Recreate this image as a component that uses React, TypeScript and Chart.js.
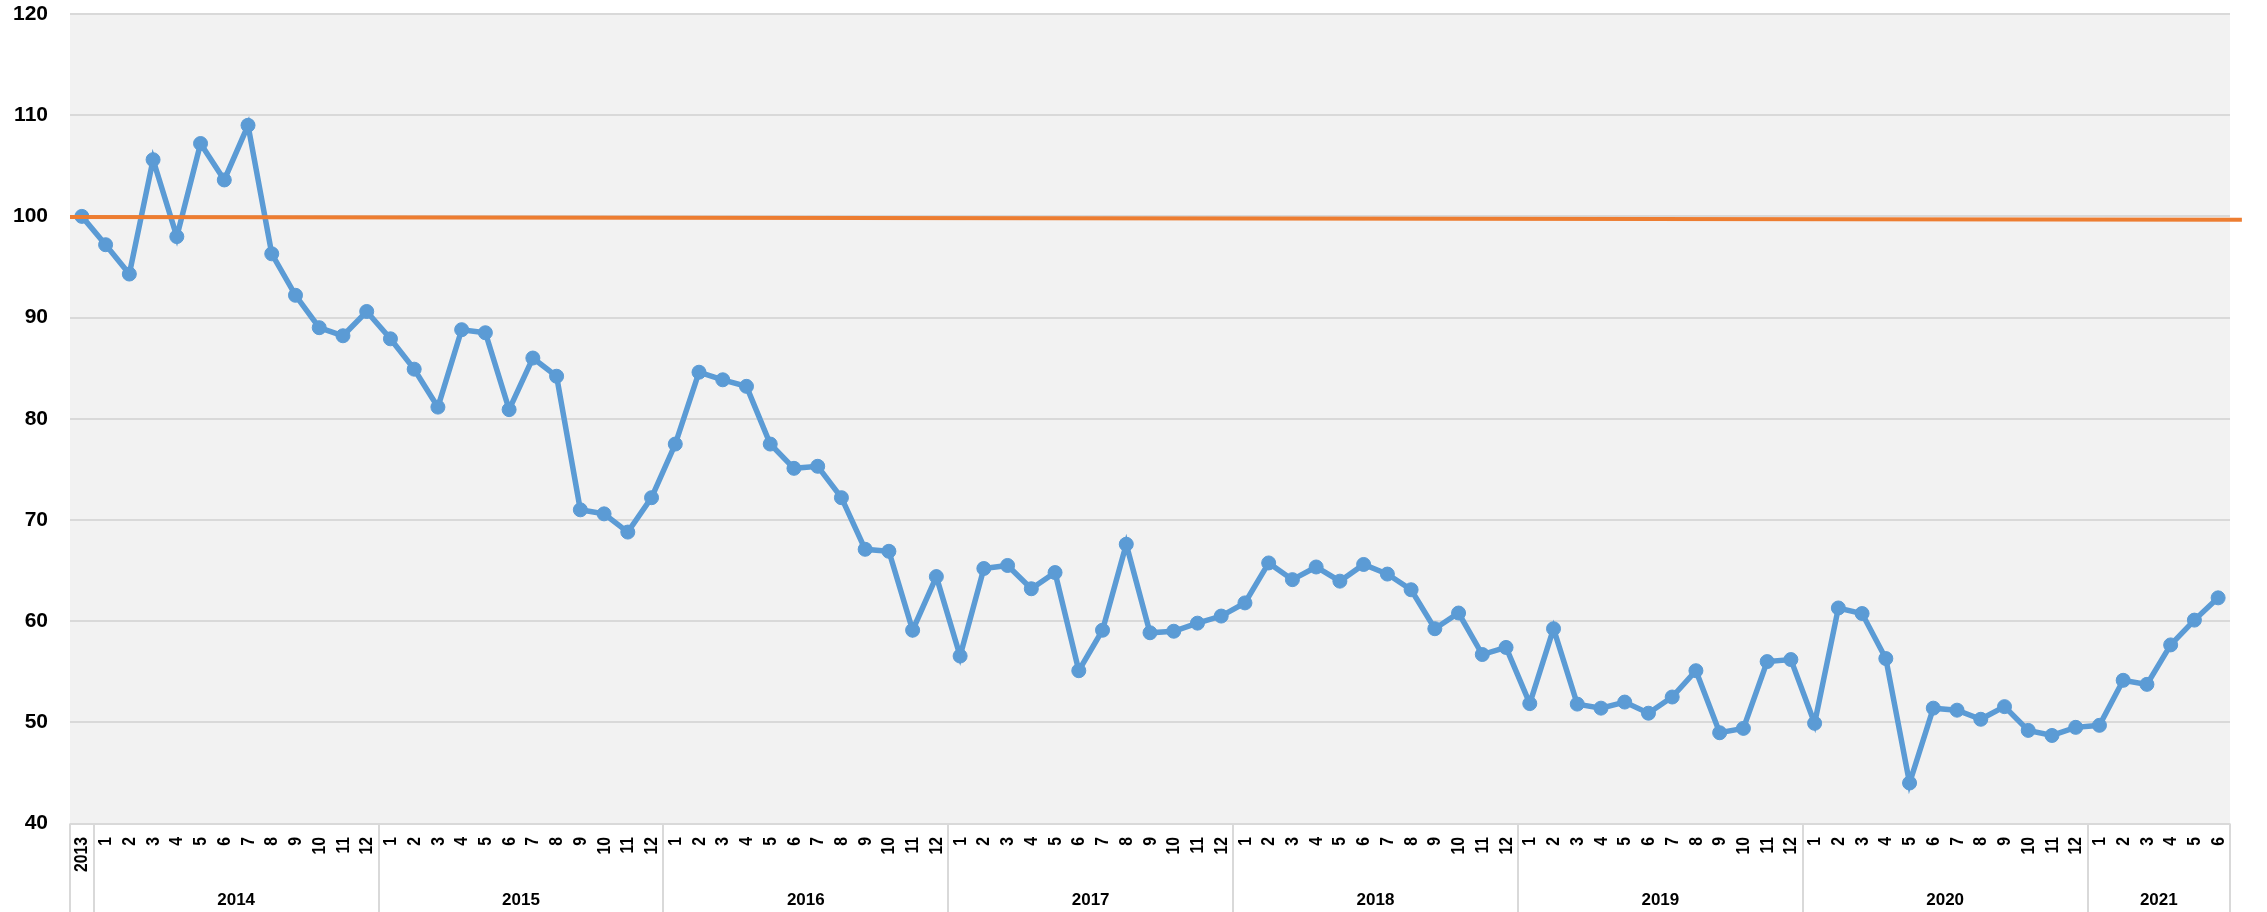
import { useEffect, useRef } from 'react';
import { Chart, registerables } from 'chart.js';

Chart.register(...registerables);

// ---- data ----
const monthLabels: string[] = [
  '2013',
  '1', '2', '3', '4', '5', '6', '7', '8', '9', '10', '11', '12',
  '1', '2', '3', '4', '5', '6', '7', '8', '9', '10', '11', '12',
  '1', '2', '3', '4', '5', '6', '7', '8', '9', '10', '11', '12',
  '1', '2', '3', '4', '5', '6', '7', '8', '9', '10', '11', '12',
  '1', '2', '3', '4', '5', '6', '7', '8', '9', '10', '11', '12',
  '1', '2', '3', '4', '5', '6', '7', '8', '9', '10', '11', '12',
  '1', '2', '3', '4', '5', '6', '7', '8', '9', '10', '11', '12',
  '1', '2', '3', '4', '5', '6',
];
const yearLabels: string[] = ['', '2014', '2015', '2016', '2017', '2018', '2019', '2020', '2021'];
const yearSpans: number[] = [1, 12, 12, 12, 12, 12, 12, 12, 6];

const values2013 = [100.0];
const values2014 = [97.2, 94.3, 105.6, 98.0, 107.2, 103.6, 109.0, 96.3, 92.2, 89.0, 88.2, 90.6];
const values2015 = [87.9, 84.9, 81.15, 88.8, 88.5, 80.9, 86.0, 84.2, 71.0, 70.6, 68.8, 72.2];
const values2016 = [77.5, 84.6, 83.85, 83.2, 77.5, 75.1, 75.3, 72.2, 67.1, 66.9, 59.1, 64.4];
const values2017 = [56.55, 65.2, 65.5, 63.2, 64.8, 55.1, 59.1, 67.6, 58.85, 59.0, 59.8, 60.5];
const values2018 = [61.8, 65.75, 64.1, 65.35, 63.95, 65.6, 64.65, 63.1, 59.25, 60.8, 56.7, 57.4];
const values2019 = [51.85, 59.25, 51.8, 51.4, 52.0, 50.9, 52.5, 55.1, 48.97, 49.4, 56.0, 56.2];
const values2020 = [49.9, 61.3, 60.75, 56.3, 44.0, 51.4, 51.2, 50.3, 51.55, 49.2, 48.7, 49.5];
const values2021 = [49.7, 54.15, 53.75, 57.65, 60.1, 62.3];

// reference line (start / end values, slightly sloping)
const refLineX = [-0.5, 91.0];
const refLineY = [99.93, 99.67];

const yTicks = { min: 40, max: 120, step: 10 };

const seriesValues: number[] = [
  ...values2013, ...values2014, ...values2015, ...values2016, ...values2017,
  ...values2018, ...values2019, ...values2020, ...values2021,
];

const FONT = "'Liberation Sans', Arial, sans-serif";

const plotBg = {
  id: 'plotBg',
  beforeDraw(chart: any) {
    const { ctx, chartArea } = chart;
    const { left, top, right, bottom } = chartArea;
    ctx.save();
    ctx.fillStyle = '#f2f2f2';
    ctx.fillRect(left, top, right - left, bottom - top);
    ctx.restore();
  },
};

const categoryAxis = {
  id: 'categoryAxis',
  afterDraw(chart: any) {
    const { ctx, chartArea } = chart;
    const xs = chart.scales.x;
    const bottom = chartArea.bottom;
    const canvasH = chart.height;
    ctx.save();
    // separators
    ctx.strokeStyle = '#d9d9d9';
    ctx.lineWidth = 2;
    let start = 0;
    const bounds: number[] = [0];
    yearSpans.forEach((s) => { start += s; bounds.push(start); });
    bounds.forEach((b) => {
      const px = Math.round(xs.getPixelForValue(b - 0.5));
      ctx.beginPath();
      ctx.moveTo(px, bottom);
      ctx.lineTo(px, canvasH);
      ctx.stroke();
    });
    // month labels
    ctx.fillStyle = '#000000';
    ctx.font = `bold 18.5px ${FONT}`;
    ctx.textAlign = 'right';
    ctx.textBaseline = 'middle';
    monthLabels.forEach((lab, i) => {
      const px = xs.getPixelForValue(i);
      ctx.save();
      ctx.translate(px + 0.5, bottom + 13.5);
      ctx.rotate(-Math.PI / 2);
      ctx.scale(0.85, 1);
      ctx.fillText(lab, 0, 0);
      ctx.restore();
    });
    // year labels
    ctx.font = `bold 17px ${FONT}`;
    ctx.textAlign = 'center';
    ctx.textBaseline = 'middle';
    for (let g = 0; g < yearLabels.length; g++) {
      if (!yearLabels[g]) continue;
      const a = xs.getPixelForValue(bounds[g] - 0.5);
      const b = xs.getPixelForValue(bounds[g + 1] - 0.5);
      ctx.fillText(yearLabels[g], (a + b) / 2, 900.5);
    }
    ctx.restore();
  },
};

export default function App() {
  const ref = useRef<HTMLCanvasElement | null>(null);
  useEffect(() => {
    if (!ref.current) return;
    const chart = new Chart(ref.current, {
      type: 'line',
      data: {
        datasets: [
          {
            label: 'ref',
            data: refLineX.map((x, i) => ({ x, y: refLineY[i] })),
            borderColor: '#ed7d31',
            borderWidth: 4,
            pointRadius: 0,
            clip: false as any,
          },
          {
            label: 'index',
            data: seriesValues.map((v, i) => ({ x: i, y: v })),
            borderColor: '#5b9bd5',
            backgroundColor: '#5b9bd5',
            borderWidth: 5.5,
            pointRadius: 7,
            pointBorderWidth: 1,
            pointBorderColor: '#5b9bd5',
            pointBackgroundColor: '#5b9bd5',
            tension: 0,
          },
        ],
      },
      options: {
        animation: false,
        responsive: false,
        devicePixelRatio: 1,
        layout: { padding: { left: 0, top: 14, right: 37, bottom: 88.5 } },
        plugins: { legend: { display: false }, tooltip: { enabled: false } },
        scales: {
          x: {
            type: 'linear',
            min: -0.5,
            max: monthLabels.length - 0.5,
            display: false,
          },
          y: {
            min: yTicks.min,
            max: yTicks.max,
            ticks: {
              stepSize: yTicks.step,
              color: '#000000',
              font: { family: FONT, size: 21, weight: 'bold' },
              padding: 22,
            },
            grid: { color: '#d9d9d9', lineWidth: 2, drawTicks: false },
            border: { display: false },
            afterFit: (s: any) => {
              s.width = 70;
              s.paddingTop = 8;
              s.paddingBottom = 8;
            },
          },
        },
      },
      plugins: [plotBg, categoryAxis],
    } as any);
    return () => chart.destroy();
  }, []);
  return (
    <div style={{ position: 'absolute', left: 0, top: 0, width: 2267, height: 912, background: '#ffffff' }}>
      <canvas ref={ref} width={2267} height={912} style={{ display: 'block' }} />
    </div>
  );
}
